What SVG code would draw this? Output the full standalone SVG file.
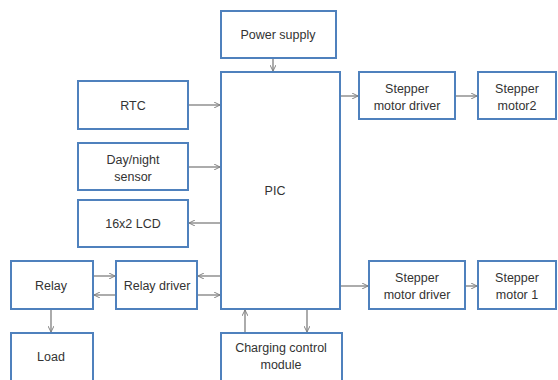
<svg xmlns="http://www.w3.org/2000/svg" width="558" height="380" viewBox="0 0 558 380">
<style>
.box{fill:#fff;stroke:#4f81bd;stroke-width:2}
text{font-family:"Liberation Sans","Open Sans",sans-serif;font-size:12.5px;fill:#333;text-anchor:middle}
.c line{stroke:#7f7f7f;stroke-width:1.3;marker-end:url(#ah)}
</style>
<defs>
<marker id="ah" viewBox="0 0 10 10" refX="10" refY="5" markerWidth="6" markerHeight="6" markerUnits="userSpaceOnUse" orient="auto">
<path d="M0,0 L10,5 L0,10" fill="none" stroke="#7f7f7f" stroke-width="1.6"/>
</marker>
</defs>
<rect width="558" height="380" fill="#fff"/>
<g id="power"><rect class="box" x="221" y="11" width="115" height="47"/><text x="278" y="39">Power supply</text></g>
<g id="pic"><rect class="box" x="221" y="72" width="119" height="237"/><text x="275" y="195">PIC</text></g>
<g id="rtc"><rect class="box" x="78" y="81" width="110" height="48"/><text x="133" y="110">RTC</text></g>
<g id="daynight"><rect class="box" x="78" y="143" width="110" height="47"/><text x="133" y="164">Day/night</text><text x="133" y="181">sensor</text></g>
<g id="lcd"><rect class="box" x="78" y="200" width="110" height="47"/><text x="133" y="228">16x2 LCD</text></g>
<g id="relay"><rect class="box" x="11" y="261" width="82" height="48"/><text x="51" y="290">Relay</text></g>
<g id="relaydriver"><rect class="box" x="116" y="261" width="81" height="48"/><text x="157" y="290">Relay driver</text></g>
<g id="load"><rect class="box" x="11" y="333" width="82" height="55"/><text x="51" y="361">Load</text></g>
<g id="charging"><rect class="box" x="221" y="333" width="121" height="55"/><text x="281" y="352">Charging control</text><text x="281" y="369">module</text></g>
<g id="smd2"><rect class="box" x="359" y="72" width="96" height="47"/><text x="407" y="93">Stepper</text><text x="407" y="110">motor driver</text></g>
<g id="sm2"><rect class="box" x="478" y="72" width="78" height="47"/><text x="517" y="93">Stepper</text><text x="517" y="110">motor2</text></g>
<g id="smd1"><rect class="box" x="369" y="261" width="96" height="48"/><text x="417" y="282">Stepper</text><text x="417" y="299">motor driver</text></g>
<g id="sm1"><rect class="box" x="478" y="261" width="78" height="48"/><text x="517" y="282">Stepper</text><text x="517" y="299">motor 1</text></g>
<g class="c" id="connectors">
<line x1="273" y1="59" x2="273" y2="71"/>
<line x1="189" y1="105" x2="220" y2="105"/>
<line x1="189" y1="167" x2="220" y2="167"/>
<line x1="220" y1="223" x2="189" y2="223"/>
<line x1="220" y1="276" x2="198" y2="276"/>
<line x1="198" y1="295" x2="220" y2="295"/>
<line x1="94" y1="276" x2="115" y2="276"/>
<line x1="115" y1="295" x2="94" y2="295"/>
<line x1="51" y1="310" x2="51" y2="332"/>
<line x1="245" y1="332" x2="245" y2="310"/>
<line x1="307" y1="310" x2="307" y2="332"/>
<line x1="341" y1="96" x2="358" y2="96"/>
<line x1="456" y1="96" x2="477" y2="96"/>
<line x1="341" y1="286" x2="368" y2="286"/>
<line x1="466" y1="286" x2="477" y2="286"/>
</g>
</svg>
